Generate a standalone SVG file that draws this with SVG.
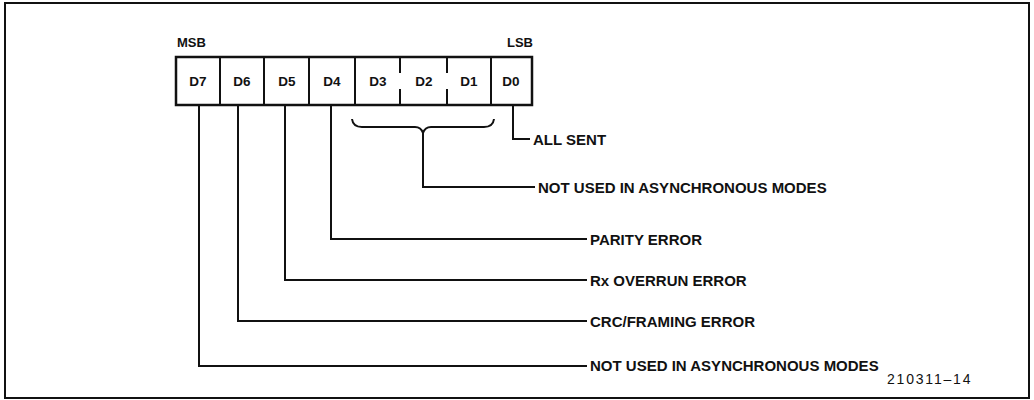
<svg xmlns="http://www.w3.org/2000/svg" width="1034" height="400" viewBox="0 0 1034 400">
<style>
.frame{fill:none;stroke:#111;stroke-width:2}
.box{fill:#fff;stroke:#111;stroke-width:2.5}
.div{stroke:#111;stroke-width:2}
.ln{fill:none;stroke:#111;stroke-width:2}
.cell{font-family:"Liberation Sans",Arial,sans-serif;font-weight:bold;font-size:13.5px;fill:#111;text-anchor:middle;dominant-baseline:central}
.hdr{font-family:"Liberation Sans",Arial,sans-serif;font-weight:bold;font-size:13px;fill:#111}
.lbl{font-family:"Liberation Sans",Arial,sans-serif;font-weight:bold;font-size:15px;fill:#111;dominant-baseline:central}
.num{font-family:"Liberation Sans",Arial,sans-serif;font-size:14px;fill:#111;letter-spacing:1.8px;dominant-baseline:central}
</style>
<rect class="frame" x="5" y="3" width="1024" height="395"/>
<g id="register">
<rect class="box" x="176" y="57" width="356" height="48"/>
<line class="div" x1="220" y1="57" x2="220" y2="105"/>
<line class="div" x1="264" y1="57" x2="264" y2="105"/>
<line class="div" x1="309" y1="57" x2="309" y2="105"/>
<line class="div" x1="355" y1="57" x2="355" y2="105"/>
<line class="div" x1="400" y1="57" x2="400" y2="73"/>
<line class="div" x1="400" y1="89" x2="400" y2="105"/>
<line class="div" x1="447" y1="57" x2="447" y2="73"/>
<line class="div" x1="447" y1="89" x2="447" y2="105"/>
<line class="div" x1="491" y1="57" x2="491" y2="105"/>
<text class="cell" x="198" y="81">D7</text>
<text class="cell" x="242" y="81">D6</text>
<text class="cell" x="287" y="81">D5</text>
<text class="cell" x="332" y="81">D4</text>
<text class="cell" x="378" y="81">D3</text>
<text class="cell" x="424" y="81">D2</text>
<text class="cell" x="469" y="81">D1</text>
<text class="cell" x="511" y="81">D0</text>
<text class="hdr" x="177" y="47">MSB</text>
<text class="hdr" x="507" y="47">LSB</text>
</g>
<g id="connectors">
<path class="ln" d="M513 105 V139 H530"/>
<path class="ln" d="M352 119 Q353 127 362 127 H415 Q421 127 423 133 Q425 127 431 127 H484 Q493 127 494 119"/>
<path class="ln" d="M423 133 V187 H535"/>
<path class="ln" d="M331 105 V239 H587"/>
<path class="ln" d="M285 105 V280 H587"/>
<path class="ln" d="M238 105 V321 H587"/>
<path class="ln" d="M199 105 V366 H587"/>
</g>
<g id="labels">
<text class="lbl" x="533" y="139">ALL SENT</text>
<text class="lbl" x="538" y="187">NOT USED IN ASYNCHRONOUS MODES</text>
<text class="lbl" x="590" y="239">PARITY ERROR</text>
<text class="lbl" x="590" y="280">Rx OVERRUN ERROR</text>
<text class="lbl" x="590" y="321">CRC/FRAMING ERROR</text>
<text class="lbl" x="590" y="365">NOT USED IN ASYNCHRONOUS MODES</text>
<text class="num" x="887" y="379">210311–14</text>
</g>
</svg>
